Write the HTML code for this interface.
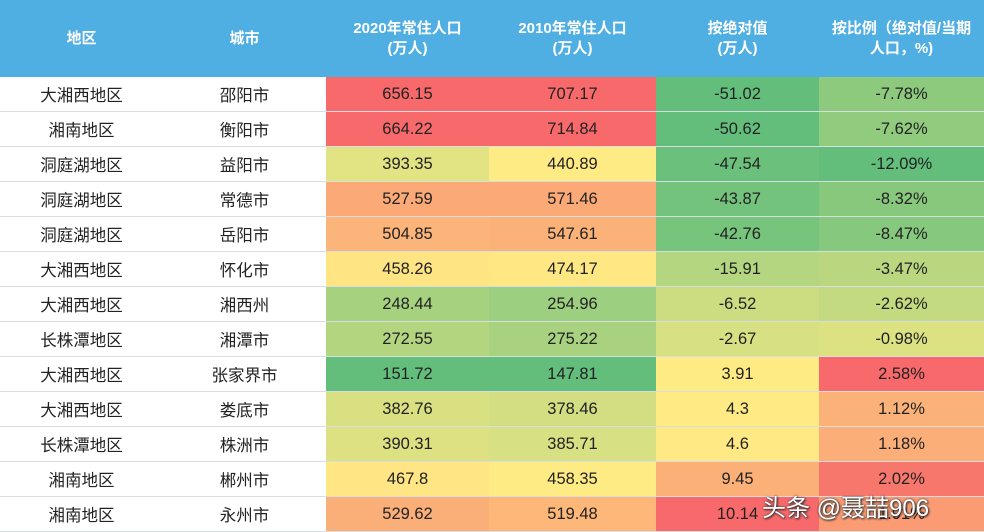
<!DOCTYPE html>
<html><head><meta charset="utf-8"><style>
body{margin:0;width:984px;height:532px;overflow:hidden;background:#fff;font-family:"Liberation Sans","Noto Sans CJK SC",sans-serif;position:relative}
table{border-collapse:collapse;table-layout:fixed;width:984px}
th{background:#4FAEE2;color:#fff;font-weight:bold;font-size:15px;line-height:20px;height:77px;padding:0;text-align:center}
td{height:34px;border-bottom:1px solid #d6dde3;text-align:center;font-size:16.5px;color:#222;padding:0}
.wm{position:absolute;left:762px;top:488px;font-size:24px;color:#fff;text-shadow:0 0 2px #333,1px 1px 2px #222;letter-spacing:0px}
</style></head><body>
<table>
<colgroup><col style="width:163px"><col style="width:163px"><col style="width:163px"><col style="width:167px"><col style="width:163px"><col style="width:165px"></colgroup>
<tr><th>地区</th><th>城市</th><th>2020年常住人口<br>(万人)</th><th>2010年常住人口<br>(万人)</th><th>按绝对值<br>(万人)</th><th>按比例（绝对值/当期<br>人口，%)</th></tr>
<tr><td>大湘西地区</td><td>邵阳市</td><td style="background:#F8696B">656.15</td><td style="background:#F8696B">707.17</td><td style="background:#63BE7B">-51.02</td><td style="background:#8ECA7E">-7.78%</td></tr>
<tr><td>湘南地区</td><td>衡阳市</td><td style="background:#F8696B">664.22</td><td style="background:#F8696B">714.84</td><td style="background:#64BE7B">-50.62</td><td style="background:#90CB7E">-7.62%</td></tr>
<tr><td>洞庭湖地区</td><td>益阳市</td><td style="background:#E2E383">393.35</td><td style="background:#FFEB84">440.89</td><td style="background:#6BC07C">-47.54</td><td style="background:#63BE7B">-12.09%</td></tr>
<tr><td>洞庭湖地区</td><td>常德市</td><td style="background:#FBAA77">527.59</td><td style="background:#FBAA77">571.46</td><td style="background:#74C37C">-43.87</td><td style="background:#88C87D">-8.32%</td></tr>
<tr><td>洞庭湖地区</td><td>岳阳市</td><td style="background:#FBB479">504.85</td><td style="background:#FBB279">547.61</td><td style="background:#77C47C">-42.76</td><td style="background:#86C87D">-8.47%</td></tr>
<tr><td>大湘西地区</td><td>怀化市</td><td style="background:#FEE483">458.26</td><td style="background:#FFE883">474.17</td><td style="background:#B5D680">-15.91</td><td style="background:#BAD780">-3.47%</td></tr>
<tr><td>大湘西地区</td><td>湘西州</td><td style="background:#A6D17F">248.44</td><td style="background:#9CCF7F">254.96</td><td style="background:#CCDC81">-6.52</td><td style="background:#C3DA80">-2.62%</td></tr>
<tr><td>长株潭地区</td><td>湘潭市</td><td style="background:#B3D580">272.55</td><td style="background:#A8D27F">275.22</td><td style="background:#D7E082">-2.67</td><td style="background:#DCE182">-0.98%</td></tr>
<tr><td>大湘西地区</td><td>张家界市</td><td style="background:#63BE7B">151.72</td><td style="background:#63BE7B">147.81</td><td style="background:#FFEB84">3.91</td><td style="background:#F8696B">2.58%</td></tr>
<tr><td>大湘西地区</td><td>娄底市</td><td style="background:#D9E082">382.76</td><td style="background:#D2DE81">378.46</td><td style="background:#FFEA84">4.3</td><td style="background:#FBB279">1.12%</td></tr>
<tr><td>长株潭地区</td><td>株洲市</td><td style="background:#DDE182">390.31</td><td style="background:#D7E082">385.71</td><td style="background:#FFE984">4.6</td><td style="background:#FBAE78">1.18%</td></tr>
<tr><td>湘南地区</td><td>郴州市</td><td style="background:#FFE583">467.8</td><td style="background:#FFEB84">458.35</td><td style="background:#FBB078">9.45</td><td style="background:#F8776D">2.02%</td></tr>
<tr><td>湘南地区</td><td>永州市</td><td style="background:#FBAF78">529.62</td><td style="background:#FCB779">519.48</td><td style="background:#F8696B">10.14</td><td style="background:#FA9B74">1.91%</td></tr>
</table>
<div class="wm">头条 @聂喆906</div>
</body></html>
